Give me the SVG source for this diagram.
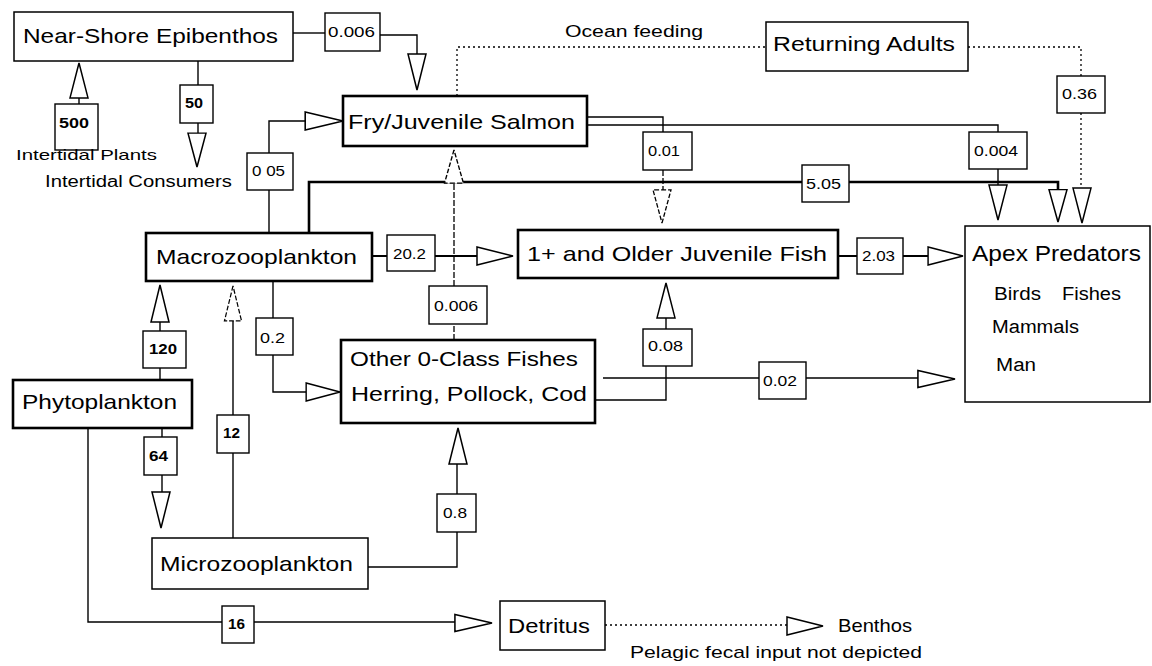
<svg xmlns="http://www.w3.org/2000/svg" xmlns:xlink="http://www.w3.org/1999/xlink" width="1152" height="666" viewBox="0 0 1152 666">
<style>
text{font-family:"Liberation Sans",Arial,sans-serif;fill:#000}
.node rect{fill:#fff;stroke:#000}
.thin rect{stroke-width:1.5}
.thick rect{stroke-width:2.6}
.lbl rect{fill:#fff;stroke:#000;stroke-width:1.4}
.lbl text{font-size:15px}
.lbl text.b{font-weight:bold}
.big{font-size:21px}
.apx{font-size:22px}
.mid{font-size:18px}
.small{font-size:15px}
.c{fill:none;stroke:#000;stroke-width:1.4}
.ct{fill:none;stroke:#000;stroke-width:2.6}
.cm{fill:none;stroke:#000;stroke-width:2}
.dot{fill:none;stroke:#000;stroke-width:1.3;stroke-dasharray:2,3}
.dash{fill:none;stroke:#000;stroke-width:1.3;stroke-dasharray:6,2}
.ah{fill:#fff;stroke:#000;stroke-width:1.5}
</style>
<defs>
<path id="ah" class="ah" d="M0,0 L-36,-9 L-36,9 Z"/>
<path id="ahd" d="M0,0 L-36,-9 L-36,9 Z" fill="#fff" stroke="#000" stroke-width="1.3" stroke-dasharray="5,2"/>
</defs>
<rect width="1152" height="666" fill="#fff"/>

<g id="connectors">
<polyline class="c" points="293,33 325,33"/>
<polyline class="c" points="380,35 417,35 417,54"/>
<polyline class="c" points="79,104 79,98"/>
<polyline class="c" points="198,61 198,85"/>
<polyline class="c" points="198,123 198,133"/>
<polyline class="c" points="269,233 269,190"/>
<polyline class="c" points="269,153 269,121 307,121"/>
<polyline class="ct" points="309,233 309,182 802,182"/>
<polyline class="ct" points="849,182 1058,182 1058,190"/>
<polyline class="c" points="587,117 663,117 663,132"/>
<polyline class="dash" points="663,170 663,190"/>
<polyline class="c" points="587,125 998,125 998,132"/>
<polyline class="c" points="998,169 998,185"/>
<polyline class="dot" points="457,96 457,47 766,47"/>
<polyline class="dot" points="968,47 1081,47 1081,76"/>
<polyline class="dot" points="1081,113 1081,188"/>
<polyline class="cm" points="372,256 387,256"/>
<polyline class="cm" points="435,256 477,256"/>
<polyline class="cm" points="838,256 857,256"/>
<polyline class="cm" points="903,256 928,256"/>
<polyline class="dash" points="454,340 454,324"/>
<polyline class="dash" points="454,286 454,183"/>
<polyline class="c" points="595,400 666,400 666,366"/>
<polyline class="c" points="666,329 666,318"/>
<polyline class="c" points="603,378 759,378"/>
<polyline class="c" points="806,378 919,378"/>
<polyline class="c" points="273,281 273,318"/>
<polyline class="c" points="273,355 273,392 306,392"/>
<polyline class="c" points="160,380 160,368"/>
<polyline class="c" points="160,331 160,322"/>
<polyline class="c" points="233,321 233,415"/>
<polyline class="c" points="233,453 233,538"/>
<polyline class="c" points="162,428 162,437"/>
<polyline class="c" points="162,475 162,492"/>
<polyline class="c" points="368,567 457,567 457,532"/>
<polyline class="c" points="457,494 457,464"/>
<polyline class="c" points="88,428 88,622 222,622"/>
<polyline class="c" points="254,622 456,622"/>
<polyline class="dot" points="605,625 787,625"/>

<use xlink:href="#ah" transform="translate(417,90) rotate(90)"/>
<use xlink:href="#ah" transform="translate(79,63) rotate(-90) scale(0.97,1)"/>
<use xlink:href="#ah" transform="translate(197,167) rotate(90) scale(0.94,1)"/>
<use xlink:href="#ah" transform="translate(343,121) scale(1.05,1)"/>
<use xlink:href="#ahd" transform="translate(662,223) rotate(90) scale(0.92,1)"/>
<use xlink:href="#ah" transform="translate(998,220) rotate(90) scale(0.97,1)"/>
<use xlink:href="#ah" transform="translate(1058,222) rotate(90) scale(0.9,1)"/>
<use xlink:href="#ah" transform="translate(1082,223) rotate(90) scale(0.97,1)"/>
<use xlink:href="#ah" transform="translate(513,256)"/>
<use xlink:href="#ah" transform="translate(963,256) scale(0.97,1)"/>
<use xlink:href="#ahd" transform="translate(454,150) rotate(-90) scale(0.92,1.05)"/>
<use xlink:href="#ah" transform="translate(666,283) rotate(-90) scale(0.97,1)"/>
<use xlink:href="#ah" transform="translate(955,379) scale(1.03,0.95)"/>
<use xlink:href="#ah" transform="translate(160,285) rotate(-90) scale(1.03,1)"/>
<use xlink:href="#ahd" transform="translate(233,286) rotate(-90) scale(0.97,0.95)"/>
<use xlink:href="#ah" transform="translate(340,392) scale(0.94,1)"/>
<use xlink:href="#ah" transform="translate(161,528) rotate(90)"/>
<use xlink:href="#ah" transform="translate(458,428) rotate(-90)"/>
<use xlink:href="#ah" transform="translate(492,623) scale(1.03,0.95)"/>
<use xlink:href="#ah" transform="translate(823,626) scale(1,1)"/>
</g>

<g id="near-shore" class="node thin"><rect x="14" y="12" width="279" height="49"/><text class="big" x="23" y="43" textLength="255" lengthAdjust="spacingAndGlyphs">Near-Shore Epibenthos</text></g>
<g id="fry" class="node thick"><rect x="343" y="96" width="244" height="50"/><text class="big" x="348" y="129" textLength="227" lengthAdjust="spacingAndGlyphs">Fry/Juvenile Salmon</text></g>
<g id="returning" class="node thin"><rect x="766" y="22" width="202" height="49"/><text class="big" x="773" y="51" textLength="182" lengthAdjust="spacingAndGlyphs">Returning Adults</text></g>
<g id="macro" class="node thick"><rect x="146" y="233" width="226" height="48"/><text class="big" x="156" y="264" textLength="201" lengthAdjust="spacingAndGlyphs">Macrozooplankton</text></g>
<g id="older" class="node thick"><rect x="518" y="230" width="320" height="48"/><text class="big" x="527" y="261" textLength="300" lengthAdjust="spacingAndGlyphs">1+ and Older Juvenile Fish</text></g>
<g id="apex" class="node thin"><rect x="965" y="226" width="185" height="176"/>
<text class="apx" x="972" y="261" textLength="169" lengthAdjust="spacingAndGlyphs">Apex Predators</text>
<text class="mid" x="994" y="300" textLength="47" lengthAdjust="spacingAndGlyphs">Birds</text>
<text class="mid" x="1062" y="300" textLength="59" lengthAdjust="spacingAndGlyphs">Fishes</text>
<text class="mid" x="992" y="333" textLength="87" lengthAdjust="spacingAndGlyphs">Mammals</text>
<text class="mid" x="996" y="371" textLength="40" lengthAdjust="spacingAndGlyphs">Man</text></g>
<g id="other" class="node thick"><rect x="341" y="340" width="254" height="83"/>
<text class="big" x="350" y="366" textLength="228" lengthAdjust="spacingAndGlyphs">Other 0-Class Fishes</text>
<text class="big" x="351" y="401" textLength="236" lengthAdjust="spacingAndGlyphs">Herring, Pollock, Cod</text></g>
<g id="phyto" class="node thick"><rect x="13" y="380" width="179" height="48"/><text class="big" x="22" y="409" textLength="155" lengthAdjust="spacingAndGlyphs">Phytoplankton</text></g>
<g id="micro" class="node thin"><rect x="152" y="538" width="216" height="51"/><text class="big" x="160" y="571" textLength="193" lengthAdjust="spacingAndGlyphs">Microzooplankton</text></g>
<g id="detritus" class="node thin"><rect x="500" y="601" width="105" height="49"/><text class="big" x="508" y="633" textLength="82" lengthAdjust="spacingAndGlyphs">Detritus</text></g>

<g id="flow-labels" class="lbl">
<g id="l0006a"><rect x="325" y="13" width="55" height="38"/><text x="328" y="37" textLength="47" lengthAdjust="spacingAndGlyphs">0.006</text></g>
<g id="l500"><rect x="55" y="104" width="43" height="46"/><text class="b" x="59" y="128" textLength="30" lengthAdjust="spacingAndGlyphs">500</text></g>
<g id="l50"><rect x="180" y="85" width="33" height="38"/><text class="b" x="185" y="108" textLength="18" lengthAdjust="spacingAndGlyphs">50</text></g>
<g id="l005"><rect x="247" y="153" width="46" height="37"/><text x="252" y="176" textLength="33" lengthAdjust="spacingAndGlyphs">0 05</text></g>
<g id="l001"><rect x="643" y="132" width="49" height="38"/><text x="648" y="156" textLength="32" lengthAdjust="spacingAndGlyphs">0.01</text></g>
<g id="l036"><rect x="1057" y="76" width="48" height="37"/><text x="1062" y="99" textLength="35" lengthAdjust="spacingAndGlyphs">0.36</text></g>
<g id="l0004"><rect x="969" y="132" width="58" height="37"/><text x="974" y="156" textLength="44" lengthAdjust="spacingAndGlyphs">0.004</text></g>
<g id="l505"><rect x="802" y="165" width="47" height="37"/><text x="806" y="189" textLength="35" lengthAdjust="spacingAndGlyphs">5.05</text></g>
<g id="l202"><rect x="387" y="235" width="48" height="36"/><text x="393" y="259" textLength="33" lengthAdjust="spacingAndGlyphs">20.2</text></g>
<g id="l203"><rect x="857" y="238" width="46" height="36"/><text x="862" y="261" textLength="33" lengthAdjust="spacingAndGlyphs">2.03</text></g>
<g id="l0006b"><rect x="429" y="286" width="58" height="38"/><text x="434" y="311" textLength="44" lengthAdjust="spacingAndGlyphs">0.006</text></g>
<g id="l120"><rect x="143" y="331" width="43" height="37"/><text class="b" x="149" y="354" textLength="28" lengthAdjust="spacingAndGlyphs">120</text></g>
<g id="l02"><rect x="256" y="318" width="37" height="37"/><text x="260" y="343" textLength="25" lengthAdjust="spacingAndGlyphs">0.2</text></g>
<g id="l008"><rect x="643" y="329" width="49" height="37"/><text x="648" y="351" textLength="35" lengthAdjust="spacingAndGlyphs">0.08</text></g>
<g id="l002"><rect x="759" y="362" width="47" height="37"/><text x="763" y="386" textLength="34" lengthAdjust="spacingAndGlyphs">0.02</text></g>
<g id="l64"><rect x="144" y="437" width="33" height="38"/><text class="b" x="149" y="461" textLength="19" lengthAdjust="spacingAndGlyphs">64</text></g>
<g id="l12"><rect x="217" y="415" width="32" height="38"/><text class="b" x="223" y="438" textLength="17" lengthAdjust="spacingAndGlyphs">12</text></g>
<g id="l08"><rect x="437" y="494" width="39" height="38"/><text x="443" y="518" textLength="24" lengthAdjust="spacingAndGlyphs">0.8</text></g>
<g id="l16"><rect x="222" y="606" width="32" height="37"/><text class="b" x="228" y="629" textLength="17" lengthAdjust="spacingAndGlyphs">16</text></g>
</g>

<g id="free-labels">
<text class="small" x="16" y="160" textLength="141" lengthAdjust="spacingAndGlyphs">Intertidal Plants</text>
<text style="font-size:16px" x="45" y="187" textLength="187" lengthAdjust="spacingAndGlyphs">Intertidal Consumers</text>
<text style="font-size:16px" x="565" y="37" textLength="138" lengthAdjust="spacingAndGlyphs">Ocean feeding</text>
<text style="font-size:19px" x="838" y="632" textLength="74" lengthAdjust="spacingAndGlyphs">Benthos</text>
<text style="font-size:17px" x="630" y="658" textLength="292" lengthAdjust="spacingAndGlyphs">Pelagic fecal input not depicted</text>
</g>
</svg>
